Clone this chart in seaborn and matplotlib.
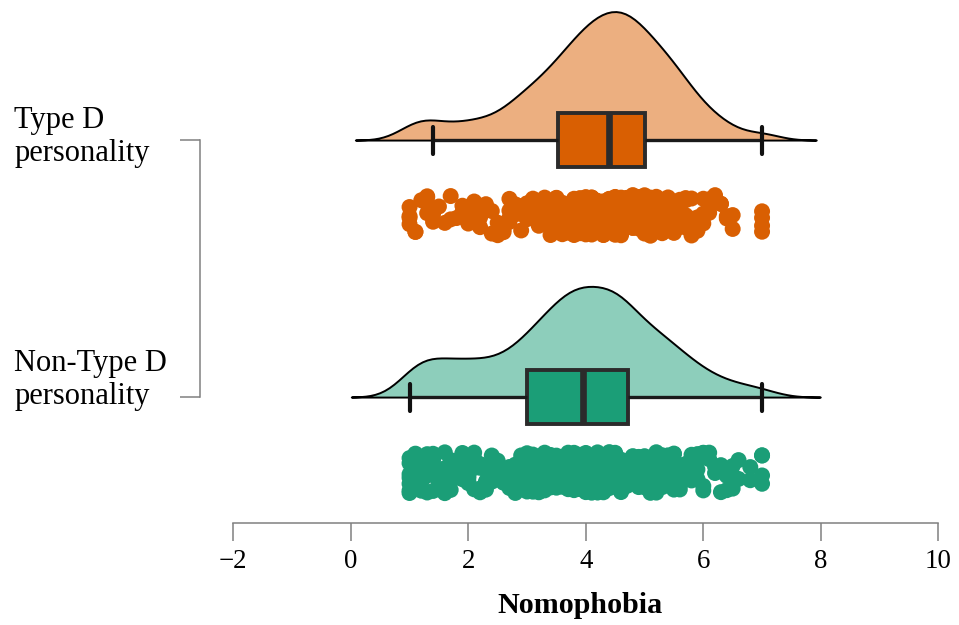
import numpy as np
import pandas as pd
import matplotlib
matplotlib.use("Agg")
import matplotlib.pyplot as plt
import matplotlib.transforms as mtransforms
import seaborn as sns

# ---------------- data ----------------
score_levels = [1.0, 1.1, 1.2, 1.3, 1.4, 1.5, 1.6, 1.7, 1.8, 1.9, 2.0,
                2.1, 2.2, 2.3, 2.4, 2.5, 2.6, 2.7, 2.8, 2.9, 3.0,
                3.1, 3.2, 3.3, 3.4, 3.5, 3.6, 3.7, 3.8, 3.9, 4.0,
                4.1, 4.2, 4.3, 4.4, 4.5, 4.6, 4.7, 4.8, 4.9, 5.0,
                5.1, 5.2, 5.3, 5.4, 5.5, 5.6, 5.7, 5.8, 5.9, 6.0,
                6.1, 6.2, 6.3, 6.4, 6.5, 6.6, 6.7, 6.8, 6.9, 7.0]
type_d_counts = [4, 2, 1, 4, 2, 1, 1, 2, 1, 2, 2,
                 2, 2, 2, 2, 2, 2, 4, 4, 4, 6,
                 4, 6, 6, 6, 8, 8, 8, 10, 10, 10,
                 12, 12, 10, 14, 12, 12, 12, 12, 12, 10,
                 8, 10, 8, 8, 8, 6, 6, 4, 4, 4,
                 2, 2, 2, 2, 2, 0, 0, 0, 0, 4]
non_type_d_counts = [7, 5, 5, 5, 5, 4, 4, 4, 4, 4, 6,
                     4, 4, 4, 4, 4, 5, 5, 5, 6, 8,
                     8, 8, 10, 10, 10, 12, 12, 14, 14, 12,
                     12, 12, 12, 12, 14, 14, 12, 8, 8, 8,
                     8, 8, 8, 6, 6, 6, 4, 4, 4, 4,
                     2, 2, 2, 2, 2, 2, 0, 2, 0, 4]
groups = ["Type D", "Non-Type D"]
group_labels = ["Type D\npersonality", "Non-Type D\npersonality"]
x_ticks = [-2, 0, 2, 4, 6, 8, 10]
x_label = "Nomophobia"

dark_colors = {"Type D": "#D95F02", "Non-Type D": "#1B9E77"}
cloud_colors = ["#ECAF80", "#8DCEBB"]

# ---------------- build table ----------------
frames = []
for gi, (g, counts) in enumerate(zip(groups, [type_d_counts, non_type_d_counts])):
    vals = np.repeat(score_levels, counts)
    frames.append(pd.DataFrame({"score": vals, "group": g, "pos": float(gi)}))
df = pd.concat(frames, ignore_index=True)
cloud_width = 0.5
df["cloud"] = df["pos"] - cloud_width / 2   # half-violin baseline sits at pos
rain_offset = 0.294
df["rain"] = df["pos"] + rain_offset

sns.set_theme(style="white")
plt.rcParams["font.family"] = ["Liberation Serif", "DejaVu Serif"]
plt.rcParams["text.color"] = "black"
plt.rcParams["axes.labelcolor"] = "black"

fig = plt.figure(figsize=(9.59, 6.25), dpi=100)
ax = fig.add_axes([233.3 / 959, (625 - 523) / 625, 705 / 959, 523 / 625])

# clouds (half violins, one shared density scale)
sns.violinplot(data=df, x="score", y="cloud", color=cloud_colors[0],
               orient="h", native_scale=True, split=True, inner=None,
               cut=3, bw_adjust=0.8, density_norm="area", common_norm=True,
               width=cloud_width, saturation=1, linecolor="black", linewidth=1.4,
               ax=ax)
violin_polys = list(ax.collections)
for poly, col in zip(violin_polys, cloud_colors):
    poly.set_facecolor(col)

# boxes
sns.boxplot(data=df, x="score", y="pos", hue="group", palette=dark_colors,
            orient="h", native_scale=True, width=0.21, showfliers=False,
            saturation=1, linecolor="#2b2b2b", linewidth=2.8,
            medianprops={"linewidth": 4.8, "color": "#2b2b2b"},
            whiskerprops={"linewidth": 2.4, "color": "#1a1a1a"},
            capprops={"linewidth": 3.0, "color": "#111111"},
            legend=False, ax=ax)

# rain (jittered points)
np.random.seed(3)
sns.stripplot(data=df, x="score", y="rain", hue="group", palette=dark_colors,
              orient="h", native_scale=True, jitter=0.08, size=11.5,
              linewidth=0, alpha=1, legend=False, ax=ax)

# ---------------- axes styling ----------------
ax.set_xlim(-2, 10)
ax.set_ylim(1.49, -0.545)
ax.grid(False)
for side in ["top", "right"]:
    ax.spines[side].set_visible(False)
ax.spines["left"].set_position(("outward", 23.76))
ax.spines["left"].set_bounds(0, 1)
ax.spines["bottom"].set_bounds(-2, 10)
for side in ["left", "bottom"]:
    ax.spines[side].set_color("#808080")
    ax.spines[side].set_linewidth(1.1)

ax.tick_params(axis="y", direction="out", length=14.4, width=1.1, color="#808080",
               labelcolor="black", pad=119.5, left=True)
ax.tick_params(axis="x", direction="out", length=13, width=1.1, color="#808080",
               labelcolor="black", pad=6, bottom=True)

ax.set_xticks(x_ticks)
ax.set_xticklabels([f"{t}".replace("-", "\u2212") for t in x_ticks], fontsize=19.4)
ax.set_yticks([0, 1])
ax.set_yticklabels(group_labels)
ax.set_ylabel("")
ax.set_xlabel(x_label, fontsize=21.6, fontweight="bold", color="black")
ax.xaxis.set_label_coords((580 - 233.3) / 705, -0.131)

for lab, dy in zip(ax.get_yticklabels(), [8.5, 23]):
    lab.set_fontsize(22)
    lab.set_color("black")
    lab.set_horizontalalignment("left")
    lab.set_multialignment("left")
    lab.set_linespacing(1.2)
    lab.set_transform(lab.get_transform() +
                      mtransforms.ScaledTranslation(0, dy / 100, fig.dpi_scale_trans))

fig.savefig("out.png", dpi=100)
